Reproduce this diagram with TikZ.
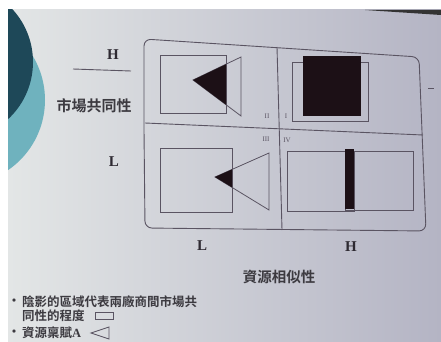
\documentclass[tikz,border=0pt]{standalone}
\usepackage{fontspec}
\setmainfont{Liberation Serif}
\newfontfamily\cjk{Noto Sans CJK TC}[BoldFont={Noto Sans CJK TC Bold}]
\definecolor{bgl}{HTML}{E3E6E6}
\definecolor{bgr}{HTML}{B4B4C4}
\definecolor{tealL}{HTML}{6FB2BE}
\definecolor{tealD}{HTML}{1E4858}
\definecolor{linec}{HTML}{5A5462}
\definecolor{fillc}{HTML}{1C1016}
\definecolor{txtc}{HTML}{2E2A32}
\definecolor{cjkc}{HTML}{3C3A40}
\begin{document}
\begin{tikzpicture}[x=1pt,y=-1pt,
  frame/.style={draw=linec,line width=0.9pt},
  thin/.style={draw=linec,line width=0.8pt},
  shade/.style={fill=fillc},
  axlab/.style={text=txtc,font=\fontsize{15}{15}\selectfont\bfseries,inner sep=0pt},
  roman/.style={text=linec,font=\fontsize{7}{7}\selectfont,inner sep=0pt},
  cjklab/.style={text=cjkc,font=\cjk\bfseries\fontsize{15}{15}\selectfont,inner sep=0pt},
  legend/.style={text=cjkc,font=\cjk\bfseries\fontsize{12.5}{14}\selectfont,inner sep=0pt,anchor=west},
  bulletmark/.style={text=cjkc,font=\cjk\bfseries\fontsize{13}{13}\selectfont,inner sep=0pt}]
\useasboundingbox (0,0) rectangle (441,342);
\fill[white] (0,0) rectangle (441,342);
\shade[left color=bgl,right color=bgr] (8,10) rectangle (441,342);
\begin{scope}
  \clip (8,10) rectangle (441,342);
  \fill[tealL] (-40,100) circle[radius=85pt];
  \fill[tealD] (-45,62) circle[radius=78pt];
\end{scope}
\fill[black!80] (365,10) -- (441,10) -- (441,15) -- cycle;
\draw[linec,line width=0.8pt] (428,88) -- (434,88);
% outer frame
\draw[frame,rounded corners=7pt] (144,130) -- (144,39) -- (419,57) -- (426,231) -- (145,228) -- cycle;
\draw[frame] (145,123) -- (423,135);
\draw[frame] (277,47) -- (282,230);
% quadrant II
\draw[thin] (160,55) rectangle (226,113);
\draw[thin] (193,80) -- (241,57) -- (241,116) -- cycle;
\fill[shade] (193,80) -- (226,64.2) -- (226,104.7) -- cycle;
% quadrant I
\draw[thin] (292,62) rectangle (368,121);
\fill[shade] (303,56) rectangle (361,116);
% quadrant III
\draw[thin] (160,148) rectangle (232,212);
\draw[thin] (215,177) -- (269,153) -- (269,210) -- cycle;
\fill[shade] (215,177) -- (232,169.4) -- (232,187.4) -- cycle;
% quadrant IV
\draw[thin] (287,151) rectangle (354,211);
\draw[thin] (345,151) rectangle (413,210);
\fill[shade] (345,149) rectangle (354,209);
% roman numerals
\node[roman] (n2) at (267,116) {II};
\node[roman] (n1) at (286,116) {I};
\node[roman] (n3) at (266,139) {III};
\node[roman] (n4) at (287,140) {IV};
% axis labels
\node[axlab] (hy) at (113,55) {H};
\draw[linec,line width=0.9pt] (73,69) -- (131,71);
\node[cjklab] (ylab) at (94,106) {市場共同性};
\node[axlab] (ly) at (114,162) {L};
\node[axlab] (lx) at (202,246) {L};
\node[axlab] (hx) at (351,247) {H};
\node[cjklab,font=\cjk\bfseries\fontsize{14.5}{15}\selectfont] (xlab) at (279,277) {資源相似性};
% legend
\node[bulletmark] (b1) at (14,302) {•};
\node[legend] (t1) at (22,302) {陰影的區域代表兩廠商間市場共};
\node[legend] (t2) at (22,316) {同性的程度};
\draw[thin] (95,312) rectangle (113,319);
\node[bulletmark] (b2) at (14,333) {•};
\node[legend] (t3) at (22,333) {資源稟賦\textrm{A}};
\draw[thin] (91,333) -- (109,327) -- (109,339) -- cycle;
\end{tikzpicture}
\end{document}
